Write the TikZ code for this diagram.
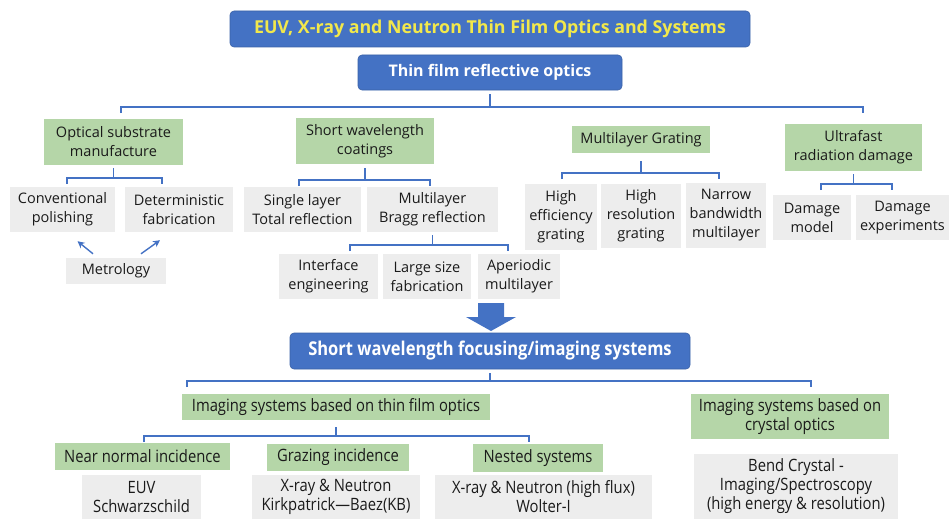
\documentclass[tikz,border=0pt]{standalone}
\usepackage{fontspec}
\setmainfont{Open Sans}
\newfontfamily\narrowfont[FakeStretch=0.87]{Open Sans}
\usetikzlibrary{arrows.meta}

\definecolor{boxblue}{HTML}{4472C4}
\definecolor{boxgreen}{HTML}{B5D6A8}
\definecolor{boxgray}{HTML}{EDEDED}
\definecolor{titleyellow}{HTML}{F2E84B}
\definecolor{textgray}{HTML}{1A1A1A}

\tikzset{
  headbox/.style={fill=boxblue, draw=boxblue!85!black, line width=0.6pt,
    rounded corners=4pt, text=white, inner sep=0pt,
    font=\bfseries\fontsize{16}{19}\selectfont},
  groupbox/.style={fill=boxgreen, text=textgray, inner sep=0pt, align=center,
    font=\fontsize{14.5}{19}\selectfont},
  itembox/.style={fill=boxgray, text=textgray, inner sep=0pt, align=center,
    font=\fontsize{14.5}{19}\selectfont},
  narrowtext/.style={font=\narrowfont\fontsize{17}{19}\selectfont},
  link/.style={draw=boxblue, line width=1.2pt},
  metarrow/.style={link, line width=1.4pt, -{Stealth[length=7pt,width=7pt]}},
}

% stem from parent, bar with a tick at each end
\newcommand{\treefork}[5]{%
  \draw[link] (#1.south |- 0,#2) -- (#1.south |- 0,#3);
  \draw[link] (#4,#3+6) -- (#4,#3) -- (#5,#3) -- (#5,#3+6);
}

\begin{document}
\begin{tikzpicture}[x=1pt, y=-1pt]
  \useasboundingbox (0,0) rectangle (950,519);

  % thin film reflective optics
  \node[headbox, text=titleyellow, minimum width=520pt, minimum height=36pt,
    font=\bfseries\fontsize{17.8}{19}\selectfont] (title) at (490,29)
    {EUV, X-ray and Neutron Thin Film Optics and Systems};
  \node[headbox, minimum width=264pt, minimum height=35pt] (thin) at (490,72.5)
    {Thin film reflective optics};

  \node[groupbox, minimum width=139pt, minimum height=46pt] (sub) at (113.5,142)
    {Optical substrate\\manufacture};
  \node[groupbox, minimum width=138pt, minimum height=46pt] (coat) at (365,141)
    {Short wavelength\\coatings};
  \node[groupbox, minimum width=138pt, minimum height=27pt] (grat) at (641,139.5)
    {Multilayer Grating};
  \node[groupbox, minimum width=137pt, minimum height=47pt] (dmg) at (853.5,147.5)
    {Ultrafast\\radiation damage};

  \node[itembox, minimum width=105pt, minimum height=45pt] (conv) at (62.5,209.5)
    {Conventional\\polishing};
  \node[itembox, minimum width=108pt, minimum height=45pt] (det) at (179,209.5)
    {Deterministic\\fabrication};
  \node[itembox, minimum width=100pt, minimum height=26pt] (met) at (116,271)
    {Metrology};

  \node[itembox, minimum width=117pt, minimum height=45pt] (single) at (302.5,209.5)
    {Single layer\\Total reflection};
  \node[itembox, minimum width=131pt, minimum height=45pt] (bragg) at (432.5,209.5)
    {Multilayer\\Bragg reflection};
  \node[itembox, minimum width=99pt, minimum height=45pt] (iface) at (328.5,276.5)
    {Interface\\engineering};
  \node[itembox, minimum width=88pt, minimum height=45pt] (large) at (427,276.5)
    {Large size\\fabrication};
  \node[itembox, minimum width=82pt, minimum height=45pt] (aper) at (519,276.5)
    {Aperiodic\\multilayer};

  \node[itembox, minimum width=72pt, minimum height=66pt] (heff) at (561,217)
    {High\\efficiency\\grating};
  \node[itembox, minimum width=80pt, minimum height=64pt] (hres) at (641,216)
    {High\\resolution\\grating};
  \node[itembox, minimum width=80pt, minimum height=65pt] (narrow) at (726,215.5)
    {Narrow\\bandwidth\\multilayer};

  \node[itembox, minimum width=78pt, minimum height=45pt] (dmodel) at (812,217.5)
    {Damage\\model};
  \node[itembox, minimum width=93pt, minimum height=45pt] (dexp) at (902.5,217.5)
    {Damage\\experiments};

  \treefork{thin}{94}{107}{121}{863}
  \treefork{sub}{168}{178}{67}{162}
  \treefork{coat}{168}{180}{299}{430}
  \treefork{bragg}{235}{245}{350}{508}
  \treefork{grat}{161}{173}{562}{719}
  \treefork{dmg}{174}{184}{821}{892}

  \draw[metarrow] ([xshift=-23pt, yshift=4pt]met.north) -- ([xshift=15pt, yshift=-9pt]conv.south);
  \draw[metarrow] ([xshift=25pt, yshift=4pt]met.north) -- ([xshift=-19pt, yshift=-8pt]det.south);

  % big arrow down to the systems
  \fill[boxblue] (478,303) -- (504,303) -- (504,317) -- (516,317) -- (491,331)
    -- (466,317) -- (478,317) -- cycle;

  % focusing/imaging systems
  \node[headbox, minimum width=400pt, minimum height=36pt,
    font=\narrowfont\bfseries\fontsize{19}{19}\selectfont] (focus) at (490,351)
    {Short wavelength focusing/imaging systems};

  \node[groupbox, narrowtext, minimum width=308pt, minimum height=26pt] (thinsys) at (336,407)
    {Imaging systems based on thin film optics};
  \node[groupbox, narrowtext, minimum width=198pt, minimum height=45pt] (crystal) at (790,416.5)
    {Imaging systems based on\\crystal optics};

  \node[groupbox, narrowtext, minimum width=175pt, minimum height=27pt] (nni) at (142.5,456.5)
    {Near normal incidence};
  \node[groupbox, narrowtext, minimum width=142pt, minimum height=27pt] (graz) at (338,457.5)
    {Grazing incidence};
  \node[groupbox, narrowtext, minimum width=130pt, minimum height=28pt] (nest) at (538,458)
    {Nested systems};

  \node[itembox, narrowtext, minimum width=119pt, minimum height=44pt] (euv) at (141.5,497)
    {EUV\\Schwarzschild};
  \node[itembox, narrowtext, minimum width=168pt, minimum height=44pt] (kb) at (336,497)
    {X-ray \& Neutron\\Kirkpatrick—Baez(KB)};
  \node[itembox, narrowtext, minimum width=217pt, minimum height=44pt] (wolter) at (543.5,497)
    {X-ray \& Neutron (high flux)\\Wolter-I};
  \node[itembox, narrowtext, minimum width=204pt, minimum height=65pt] (bend) at (796,486.5)
    {Bend Crystal -\\Imaging/Spectroscopy\\(high energy \& resolution)};

  \treefork{focus}{373}{381}{187}{811}
  \treefork{thinsys}{427}{436}{144}{529}
\end{tikzpicture}
\end{document}
